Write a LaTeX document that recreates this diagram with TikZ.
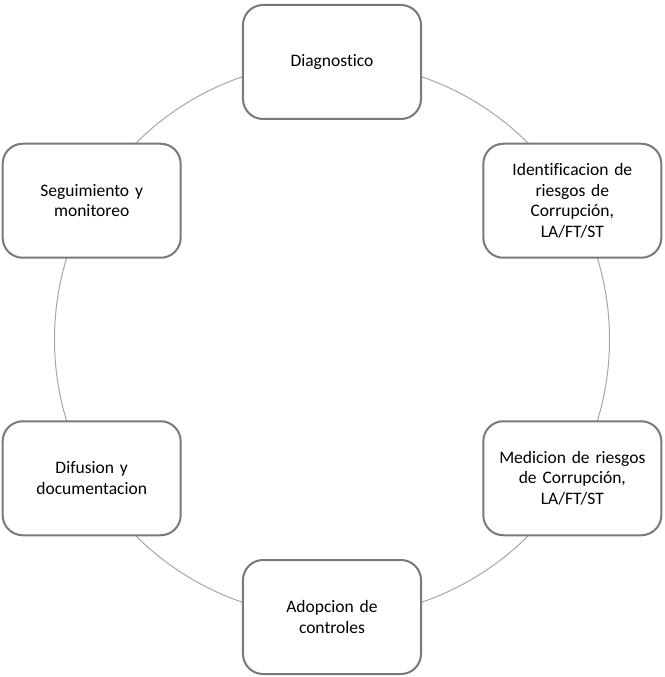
\documentclass[tikz,border=0pt]{standalone}
\usepackage{fontspec}
\setmainfont{Carlito}[Ligatures=NoCommon]
\usetikzlibrary{positioning}
\tikzset{
  etapa/.style={draw=gray!95!black, line width=2pt, rounded corners=20pt, fill=white,
    minimum width=178pt, minimum height=114pt, text width=170pt, align=center,
    font=\fontsize{17.5}{20.5}\selectfont},
  ciclo/.style={draw=black!35, line width=1pt}
}
\begin{document}
\begin{tikzpicture}[x=1pt, y=1pt]
\useasboundingbox (-332, -337.5) rectangle (332, 339.5);
\node[circle, minimum size=555pt, ciclo] (anillo) at (0, 0) {};
\node[etapa] (diag) at (90:277.5) {Diagnostico};
\node[etapa] (ident) at (30:277.5) {Identificacion de\\riesgos de\\Corrupción,\\LA/FT/ST};
\node[etapa] (medic) at (-30:277.5) {Medicion de riesgos\\de Corrupción,\\LA/FT/ST};
\node[etapa] (adop) at (-90:277.5) {Adopcion de\\controles};
\node[etapa] (difus) at (-150:277.5) {Difusion y\\documentacion};
\node[etapa] (segui) at (150:277.5) {Seguimiento y\\monitoreo};
\end{tikzpicture}
\end{document}
